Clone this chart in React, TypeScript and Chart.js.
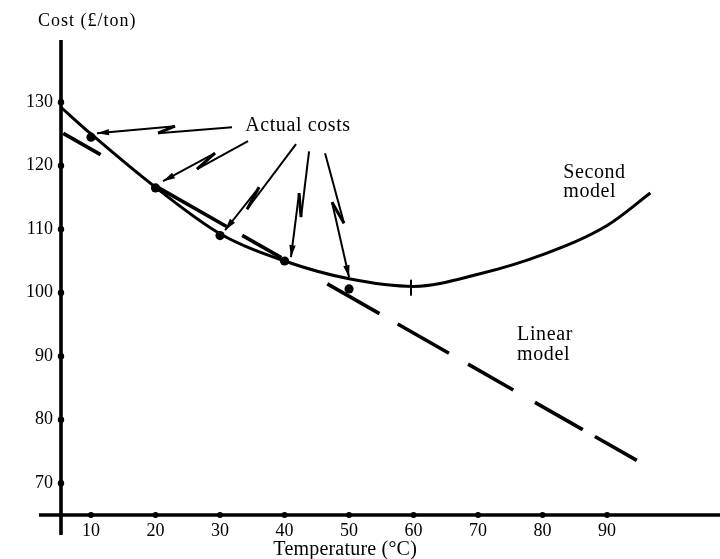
import React, { useEffect, useRef } from "react";
import { Chart, registerables } from "chart.js";

Chart.register(...registerables);

// ---- axis ticks ----
const xTickValues = [10, 20, 30, 40, 50, 60, 70, 80, 90];
const yTickValues = [70, 80, 90, 100, 110, 120, 130];

// ---- series: second (quadratic) model curve ----
const secondModelX = [5.35, 10, 20, 30, 40, 50, 60, 70, 80, 90, 96.7];
const secondModelY = [129.2, 125.0, 116.6, 109.3, 105.0, 102.2, 101.0, 102.9, 106.0, 110.6, 115.7];

// ---- series: linear model (dashed) ----
const linearModelX = [5.7, 94.6];
const linearModelY = [125.1, 73.6];

// ---- series: actual costs ----
const actualX = [10, 20, 30, 40, 50];
const actualY = [124.5, 116.5, 109.0, 105.0, 100.6];

// ---- minimum of second model ----
const minimumX = [59.6];
const minimumY = [100.8];

// ---- annotation arrows "Actual costs" (start, bolt A, bolt B, tip) in data units ----
const arrowStartX = [31.86, 34.34, 41.78, 43.8, 46.28];
const arrowStartY = [126.06, 123.86, 123.39, 122.28, 121.97];
const arrowBoltAX = [20.39, 26.43, 34.19, 42.56, 49.22];
const arrowBoltAY = [125.12, 119.45, 113.15, 111.89, 110.94];
const arrowBoltBX = [23.02, 29.22, 36.05, 42.25, 47.36];
const arrowBoltBY = [126.22, 121.97, 116.61, 115.67, 114.25];
const arrowTipX = [10.93, 21.16, 30.78, 41.0, 50.0];
const arrowTipY = [125.12, 117.56, 109.84, 105.6, 102.44];

// ---- text labels ----
const labelTexts = ["Actual costs", "Second", "model", "Linear", "model"];
const labelX = [33.9, 83.2, 83.2, 76.05, 76.05];
const labelY = [125.48, 118.03, 115.12, 92.52, 89.45];

const X_MIN = 5.35;
const X_MAX = 107.5;
const Y_MIN = 65;
const Y_MAX = 139.8;

const INK = "#000";
const SERIF = '"Liberation Serif", "Times New Roman", serif';
// hand-drawn, irregular dash pattern of the linear model line
const LINEAR_DASH = [43, 65, 80, 18, 45, 53, 60, 21, 59, 22, 52, 25, 55, 14, 60, 40];

const figurePlugin = {
  id: "figure",
  beforeDatasetsDraw(chart: any) {
    const { ctx, chartArea: ca, scales } = chart;
    const x = scales.x;
    const y = scales.y;
    ctx.save();
    ctx.strokeStyle = INK;
    ctx.fillStyle = INK;
    ctx.lineCap = "butt";
    // y axis
    ctx.lineWidth = 3.6;
    ctx.beginPath();
    ctx.moveTo(ca.left, ca.top);
    ctx.lineTo(ca.left, ca.bottom + 20);
    ctx.stroke();
    // x axis
    ctx.lineWidth = 3.6;
    ctx.beginPath();
    ctx.moveTo(ca.left - 22, ca.bottom);
    ctx.lineTo(ca.right, ca.bottom);
    ctx.stroke();
    // tick dots
    for (const v of yTickValues) {
      ctx.beginPath();
      ctx.arc(ca.left, y.getPixelForValue(v), 3.2, 0, Math.PI * 2);
      ctx.fill();
    }
    for (const v of xTickValues) {
      ctx.beginPath();
      ctx.arc(x.getPixelForValue(v), ca.bottom, 3, 0, Math.PI * 2);
      ctx.fill();
    }
    ctx.restore();
  },
  afterDatasetsDraw(chart: any) {
    const { ctx, chartArea: ca, scales } = chart;
    const x = scales.x;
    const y = scales.y;
    ctx.save();
    ctx.strokeStyle = INK;
    ctx.fillStyle = INK;

    // arrows with lightning-bolt breaks
    for (let i = 0; i < arrowStartX.length; i++) {
      const S = [x.getPixelForValue(arrowStartX[i]), y.getPixelForValue(arrowStartY[i])];
      const A = [x.getPixelForValue(arrowBoltAX[i]), y.getPixelForValue(arrowBoltAY[i])];
      const B = [x.getPixelForValue(arrowBoltBX[i]), y.getPixelForValue(arrowBoltBY[i])];
      const E = [x.getPixelForValue(arrowTipX[i]), y.getPixelForValue(arrowTipY[i])];
      ctx.lineWidth = 2;
      ctx.lineJoin = "miter";
      ctx.beginPath();
      ctx.moveTo(S[0], S[1]);
      ctx.lineTo(A[0], A[1]);
      ctx.stroke();
      ctx.lineWidth = 3;
      ctx.beginPath();
      ctx.moveTo(A[0], A[1]);
      ctx.lineTo(B[0], B[1]);
      ctx.stroke();
      ctx.lineWidth = 2;
      ctx.beginPath();
      ctx.moveTo(B[0], B[1]);
      ctx.lineTo(E[0], E[1]);
      ctx.stroke();
      // head
      const ang = Math.atan2(E[1] - B[1], E[0] - B[0]);
      const L = 12;
      const W = 3.2;
      const bx = E[0] - L * Math.cos(ang);
      const by = E[1] - L * Math.sin(ang);
      const px = -Math.sin(ang);
      const py = Math.cos(ang);
      ctx.beginPath();
      ctx.moveTo(E[0], E[1]);
      ctx.lineTo(bx + W * px, by + W * py);
      ctx.lineTo(bx - W * px, by - W * py);
      ctx.closePath();
      ctx.fill();
    }

    // labels
    (ctx as any).letterSpacing = "0.6px";
    ctx.textBaseline = "alphabetic";
    ctx.textAlign = "left";
    ctx.font = `20px ${SERIF}`;
    for (let i = 0; i < labelTexts.length; i++) {
      ctx.fillText(labelTexts[i], x.getPixelForValue(labelX[i]), y.getPixelForValue(labelY[i]));
    }

    // axis titles
    (ctx as any).letterSpacing = "1px";
    ctx.font = `18px ${SERIF}`;
    ctx.fillText("Cost (\u00a3/ton)", ca.left - 23, ca.top - 14);
    (ctx as any).letterSpacing = "0.2px";
    ctx.font = `20px ${SERIF}`;
    ctx.textAlign = "center";
    ctx.fillText("Temperature (\u00b0C)", x.getPixelForValue(49.4), ca.bottom + 40);
    ctx.restore();
  },
};

export default function App() {
  const canvasRef = useRef<HTMLCanvasElement | null>(null);

  useEffect(() => {
    const canvas = canvasRef.current;
    if (!canvas) return;
    const chart = new Chart(canvas, {
      type: "line",
      data: {
        datasets: [
          {
            label: "Second model",
            data: secondModelX.map((v, i) => ({ x: v, y: secondModelY[i] })),
            borderColor: INK,
            borderWidth: 3,
            pointRadius: 0,
            cubicInterpolationMode: "monotone",
            fill: false,
          },
          {
            label: "Linear model",
            data: linearModelX.map((v, i) => ({ x: v, y: linearModelY[i] })),
            borderColor: INK,
            borderWidth: 3.6,
            borderDash: LINEAR_DASH,
            borderCapStyle: "butt",
            pointRadius: 0,
            fill: false,
          },
          {
            label: "Actual costs",
            data: actualX.map((v, i) => ({ x: v, y: actualY[i] })),
            showLine: false,
            pointRadius: 4.6,
            pointBackgroundColor: INK,
            pointBorderColor: INK,
            pointBorderWidth: 0,
          },
          {
            label: "Minimum",
            data: minimumX.map((v, i) => ({ x: v, y: minimumY[i] })),
            showLine: false,
            pointStyle: "line",
            rotation: 90,
            pointRadius: 8,
            pointBorderColor: INK,
            pointBorderWidth: 2,
          },
        ],
      } as any,
      options: {
        responsive: false,
        animation: false,
        events: [],
        layout: { autoPadding: false, padding: { top: 40, right: 0, left: 0, bottom: 0 } },
        plugins: {
          legend: { display: false },
          tooltip: { enabled: false },
          title: { display: false },
        },
        scales: {
          x: {
            type: "linear",
            min: X_MIN,
            max: X_MAX,
            grid: { display: false, drawTicks: false },
            border: { display: false },
            afterBuildTicks: (s: any) => {
              s.ticks = xTickValues.map((v) => ({ value: v }));
            },
            afterFit: (s: any) => {
              s.height = 44;
              s.paddingLeft = 0;
              s.paddingRight = 0;
              s.paddingTop = 0;
              s.paddingBottom = 0;
            },
            ticks: {
              padding: 5,
              color: INK,
              maxRotation: 0,
              autoSkip: false,
              font: { family: SERIF, size: 18 },
              callback: (v: any) => String(v),
            },
          },
          y: {
            type: "linear",
            min: Y_MIN,
            max: Y_MAX,
            grid: { display: false, drawTicks: false },
            border: { display: false },
            afterBuildTicks: (s: any) => {
              s.ticks = yTickValues.map((v) => ({ value: v }));
            },
            afterFit: (s: any) => {
              s.width = 61;
              s.paddingLeft = 0;
              s.paddingRight = 0;
              s.paddingTop = 0;
              s.paddingBottom = 0;
            },
            ticks: {
              padding: 8,
              color: INK,
              autoSkip: false,
              font: { family: SERIF, size: 18 },
              callback: (v: any) => String(v),
            },
          },
        },
      } as any,
      plugins: [figurePlugin],
    });
    return () => chart.destroy();
  }, []);

  return (
    <div style={{ position: "absolute", left: 0, top: 0, width: 720, height: 559, background: "#fff" }}>
      <canvas ref={canvasRef} width={720} height={559} style={{ width: 720, height: 559, display: "block" }} />
    </div>
  );
}
